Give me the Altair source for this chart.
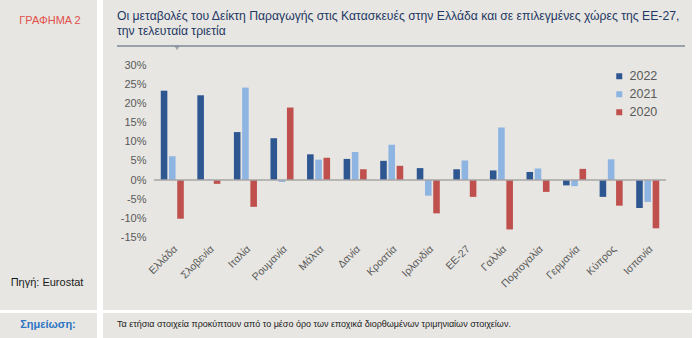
import altair as alt
import pandas as pd

countries = ["Ελλάδα", "Σλοβενία", "Ιταλία", "Ρουμανία", "Μάλτα", "Δανία", "Κροατία",
             "Ιρλανδία", "ΕΕ-27", "Γαλλία", "Πορτογαλία", "Γερμανία", "Κύπρος", "Ισπανία"]
v2022 = [23.3, 22.1, 12.5, 10.9, 6.7, 5.5, 5.0, 3.1, 2.8, 2.5, 2.1, -1.4, -4.4, -7.3]
v2021 = [6.2, 0.1, 24.1, -0.5, 5.3, 7.3, 9.2, -4.1, 5.1, 13.7, 3.0, -1.6, 5.4, -5.7]
v2020 = [-10.1, -1.0, -7.0, 18.9, 5.8, 2.8, 3.7, -8.7, -4.4, -12.9, -3.1, 2.9, -6.7, -12.6]
years = ["2022", "2021", "2020"]
colors = ["#2E5690", "#8EB4E2", "#C0504D"]
y_ticks = [-15, -10, -5, 0, 5, 10, 15, 20, 25, 30]

rows = []
for yr, vals in zip(years, [v2022, v2021, v2020]):
    for c, v in zip(countries, vals):
        rows.append({"country": c, "year": yr, "value": v})
df = pd.DataFrame(rows)

W, H = 512, 172.5
L, T = 154, 65
BG = "#E7E6E2"
FONT = "Liberation Sans"

one = pd.DataFrame({"k": [0]})


def box(x0, y0, x1, y1, color=BG):
    return alt.Chart(one).mark_rect(color=color, clip=False).encode(
        x=alt.value(x0 - L), x2=alt.value(x1 - L),
        y=alt.value(y0 - T), y2=alt.value(y1 - T))


def label(txt, x, y, size=11, color="#000000", align="left", weight="normal", font=FONT):
    return alt.Chart(pd.DataFrame({"t": [txt]})).mark_text(
        align=align, baseline="middle", fontSize=size, color=color,
        fontWeight=weight, font=font, clip=False).encode(
        text="t:N", x=alt.value(x - L), y=alt.value(y - T))


backgrounds = [
    box(0, 0, 97, 310),
    box(103, 0, 692, 310),
    box(0, 313, 97, 338),
    box(103, 313, 692, 338),
]

title_line = alt.Chart(one).mark_rule(color="#7F8A99", strokeWidth=1.5, clip=False).encode(
    x=alt.value(117 - L), x2=alt.value(685 - L), y=alt.value(46 - T))
notch = alt.Chart(one).mark_point(shape="triangle-down", size=30, filled=True,
                                  color="#7F8A99", clip=False).encode(
    x=alt.value(177 - L), y=alt.value(48 - T))

texts = [
    label("ΓΡΑΦΗΜΑ 2", 50, 21, size=11, color="#E0504A", align="center"),
    label("Οι μεταβολές του Δείκτη Παραγωγής στις Κατασκευές στην Ελλάδα και σε επιλεγμένες χώρες της ΕΕ-27,",
          117, 16, size=12.2, color="#1F3864"),
    label("την τελευταία τριετία", 117, 31, size=12.2, color="#1F3864"),
    label("Πηγή: Eurostat", 47, 283, size=11, color="#1a1a1a", align="center"),
    label("Σημείωση:", 48, 325, size=11, color="#2E75C4", align="center", weight="bold"),
    label("Τα ετήσια στοιχεία προκύπτουν από το μέσο όρο των εποχικά διορθωμένων τριμηνιαίων στοιχείων.",
          117, 324, size=9, color="#1a1a1a"),
]

y_scale = alt.Scale(domain=[-15, 30], nice=False)
y_axis = alt.Axis(title=None, values=y_ticks, labelExpr="datum.value + '%'",
                  grid=False, ticks=False, domain=False, labelPadding=8,
                  labelFontSize=11, labelColor="#595959", labelFont=FONT,
                  zindex=1, labelOverlap=False)

bars = alt.Chart(df).mark_bar().encode(
    x=alt.X("country:N", sort=countries,
            scale=alt.Scale(paddingInner=0.37, paddingOuter=0.185),
            axis=alt.Axis(title=None, labelAngle=-45, labelAlign="right", labelBaseline="top",
                          labelPadding=6, ticks=False, domain=False, labelFontSize=10.5,
                          labelColor="#595959", labelFont=FONT, zindex=1, labelOverlap=False)),
    xOffset=alt.XOffset("year:N", sort=years, scale=alt.Scale(paddingInner=0.2, paddingOuter=0)),
    y=alt.Y("value:Q", scale=y_scale, axis=y_axis),
    color=alt.Color("year:N", sort=years,
                    scale=alt.Scale(domain=years, range=colors),
                    legend=alt.Legend(title=None, orient="none", legendX=617 - L - 4,
                                      legendY=70 - T, symbolType="square", symbolSize=36,
                                      labelFontSize=12.5, labelColor="#595959",
                                      labelFont=FONT, rowPadding=5, symbolOpacity=1)),
)

zero = alt.Chart(one).mark_rule(color="#A6A6A6", strokeWidth=1.5).encode(
    y=alt.YDatum(0, scale=y_scale, axis=y_axis), x=alt.value(0), x2=alt.value(W))

chart = alt.layer(*backgrounds, title_line, notch, *texts, bars, zero).properties(
    width=W, height=H,
    autosize=alt.AutoSizeParams(type="none"),
    padding={"left": L, "top": T, "right": 700 - L - W, "bottom": 338 - T - H},
    background="#FFFFFF",
).configure_view(stroke=None).configure_axis(labelOverlap=False)

chart.save("out.html", embed_options={"renderer": "svg", "actions": False})
